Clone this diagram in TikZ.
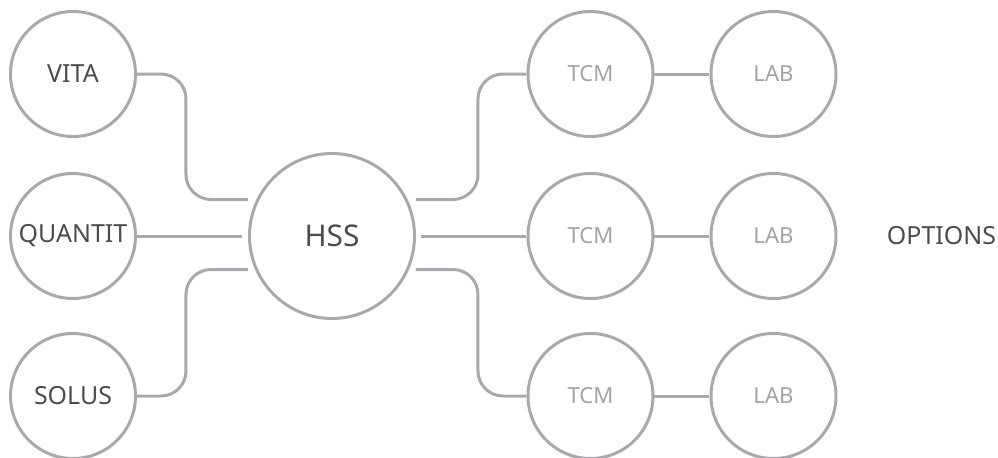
\documentclass[tikz,border=0pt]{standalone}
\usepackage{fontspec}
\setmainfont{Noto Sans}
\usepackage{xcolor}
\usepackage{tikz}
\definecolor{ringgray}{HTML}{A9A9AD}
\definecolor{darktext}{HTML}{4C4C4C}
\definecolor{lighttext}{HTML}{A3A3A3}
\tikzstyle{wire} = [draw=ringgray, line width=0.06cm, rounded corners=0.5cm]
\tikzstyle{ring} = [circle, draw=ringgray, line width=0.06cm, inner sep=0pt, minimum size=2.5cm]
\tikzstyle{srcnode} = [ring, text=darktext, font=\fontsize{14.2}{17}\selectfont]
\tikzstyle{hubnode} = [ring, minimum size=3.3cm, text=darktext, font=\fontsize{17}{20}\selectfont]
\tikzstyle{optnode} = [ring, text=lighttext, font=\fontsize{12.6}{15}\selectfont]
\tikzstyle{optext} = [text=darktext, font=\fontsize{14.2}{17}\selectfont]

\begin{document}
\begin{tikzpicture}[node distance=3.2cm]
		\useasboundingbox (-6.64,-4.42) rectangle (13.32,4.72);

		\node (hss) [hubnode] {HSS};
		\node (quantit) [srcnode, left of=hss, xshift=-1.98cm] {QUANTIT};
		\node (vita) [srcnode, above of=quantit, yshift=0.04cm] {VITA};
		\node (solus) [srcnode, below of=quantit] {SOLUS};

		\node (tcm2) [optnode, right of=hss, xshift=1.97cm] {TCM};
		\node (tcm1) [optnode, above of=tcm2, yshift=0.04cm] {TCM};
		\node (tcm3) [optnode, below of=tcm2] {TCM};
		\node (lab1) [optnode, right of=tcm1, xshift=0.46cm] {LAB};
		\node (lab2) [optnode, right of=tcm2, xshift=0.46cm] {LAB};
		\node (lab3) [optnode, right of=tcm3, xshift=0.46cm] {LAB};
		\node (options) [optext, right of=lab2, xshift=0.16cm] {OPTIONS};

		\coordinate (inVita) at ([yshift=0.73cm]hss.west);
		\coordinate (inQuantit) at ([xshift=-0.12cm]hss.west);
		\coordinate (inSolus) at ([yshift=-0.67cm]hss.west);
		\coordinate (outTop) at ([yshift=0.73cm]hss.east);
		\coordinate (outMid) at ([xshift=0.1cm]hss.east);
		\coordinate (outBot) at ([yshift=-0.67cm]hss.east);

		\draw [wire] (vita.east) -| ([xshift=-1.24cm]inVita) -- (inVita);
		\draw [wire] (quantit.east) -- (inQuantit);
		\draw [wire] (solus.east) -| ([xshift=-1.24cm]inSolus) -- (inSolus);

		\draw [wire] (outTop) -- ++(1.24cm,0) |- (tcm1.west);
		\draw [wire] (outMid) -- (tcm2.west);
		\draw [wire] (outBot) -- ++(1.24cm,0) |- (tcm3.west);

		\draw [wire] (tcm1) -- (lab1);
		\draw [wire] (tcm2) -- (lab2);
		\draw [wire] (tcm3) -- (lab3);
	\end{tikzpicture}
\end{document}
